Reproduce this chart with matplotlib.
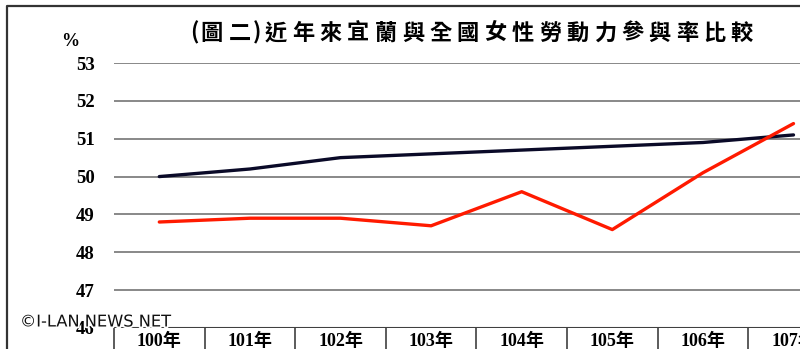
import matplotlib
matplotlib.use("Agg")
import matplotlib.pyplot as plt
import matplotlib.patheffects as pe
from matplotlib.lines import Line2D

# data
years = ['100年', '101年', '102年', '103年', '104年', '105年', '106年', '107年']
yilan = [48.8, 48.9, 48.9, 48.7, 49.6, 48.6, 50.1, 51.4]
national = [50.0, 50.2, 50.5, 50.6, 50.7, 50.8, 50.9, 51.1]
yticks = [46, 47, 48, 49, 50, 51, 52, 53]
title = '(圖二)近年來宜蘭與全國女性勞動力參與率比較'

W, H = 800, 349
serif = ['Liberation Serif', 'Noto Sans CJK TC']
cjk = ['Noto Sans CJK TC', 'DejaVu Sans']

fig = plt.figure(figsize=(W / 100, H / 100), dpi=100)

# plot area in pixels: left 114, gridline 53 at y=63, 46 at y=328
x0, xstep = 114, 90.6
n = len(years)
ax = fig.add_axes([x0 / W, (H - 328) / H, n * xstep / W, (328 - 63) / H])
ax.set_xlim(-0.5, n - 0.5)
ax.set_ylim(46, 53)

for v in yticks[1:]:
    ax.axhline(v, color='#7f7f7f', lw=1.3, zorder=1)
ax.axhline(46, color='#404040', lw=1.5, zorder=1)

xs = list(range(n))
ax.plot(xs, national, color='#0a0a28', lw=2.4, zorder=3, solid_capstyle='round')
ax.plot(xs, yilan, color='#ff1a00', lw=2.4, zorder=4, solid_capstyle='round')

for s in ax.spines.values():
    s.set_visible(False)
ax.set_xticks([])
ax.set_yticks(yticks)
ax.set_yticklabels([str(v) for v in yticks], fontfamily=serif,
                   fontweight='bold', fontsize=13.5)
ax.tick_params(axis='y', length=0, pad=14)

# category table under the axis
for i in range(n + 1):
    ax.plot([i - 0.5, i - 0.5], [0, -0.12], transform=ax.get_xaxis_transform(),
            color='#404040', lw=1.2, clip_on=False)
for i, lab in enumerate(years):
    ax.text(i, -0.052, lab, transform=ax.get_xaxis_transform(), ha='center',
            va='center', fontfamily=serif, fontweight='bold', fontsize=13,
            clip_on=False)

# title, drawn with wide letter spacing
head = [('(', 194), ('圖', 211), ('二', 240), (')', 257)]
for ch, px in head:
    fig.text(px / W, 1 - 33 / H, ch, ha='center', va='center', fontfamily=cjk,
             fontweight='bold', fontsize=16)
for k, ch in enumerate(title[4:]):
    px = 276 + 27.4 * k
    fig.text(px / W, 1 - 33 / H, ch, ha='center', va='center', fontfamily=cjk,
             fontweight='bold', fontsize=16)

fig.text(70 / W, 1 - 41 / H, '%', ha='center', va='center', fontfamily=serif,
         fontweight='bold', fontsize=13)

# chart frame
fig.add_artist(Line2D([7 / W, 7 / W, 1], [0, 1 - 6 / H, 1 - 6 / H],
                      transform=fig.transFigure, color='#333333', lw=1.6))

fig.text(20 / W, 1 - 322 / H, '©I-LAN NEWS NET', ha='left', va='center',
         fontfamily='DejaVu Sans', fontsize=11.7, color='#111111',
         path_effects=[pe.withStroke(linewidth=2.5, foreground='white')])

fig.savefig('out.png', dpi=100)
